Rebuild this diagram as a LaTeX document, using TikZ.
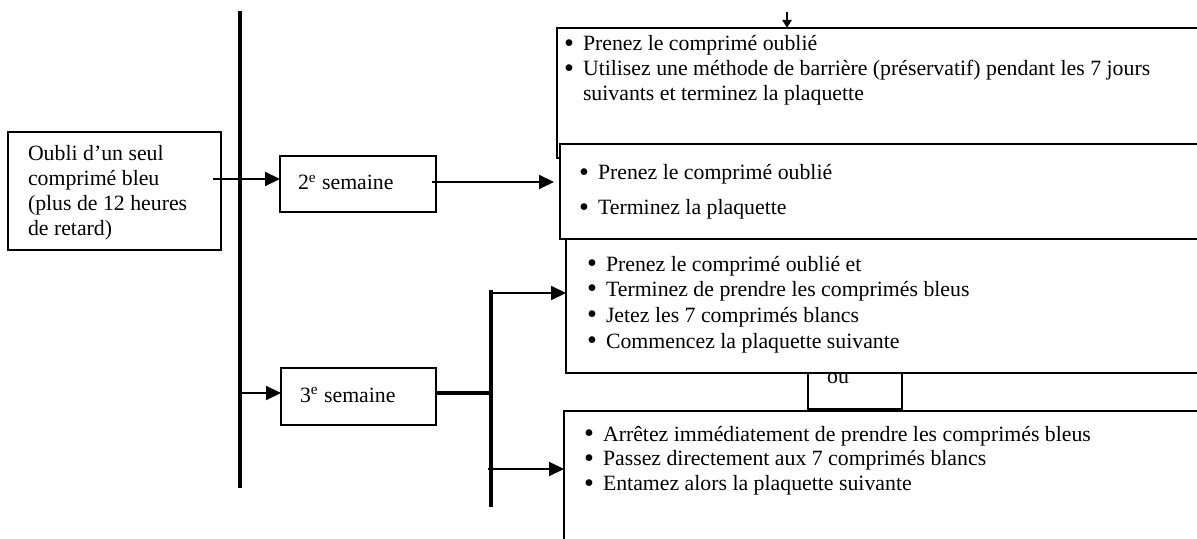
\documentclass[tikz,border=0pt]{standalone}
\usepackage{fontspec}
\setmainfont{Liberation Serif}
\usetikzlibrary{arrows.meta}
\tikzset{
  box/.style={draw, line width=0.9pt, fill=white, inner sep=0pt, outer sep=0pt, anchor=north west},
  txt/.style={inner sep=0pt, outer sep=0pt, anchor=base west, font=\fontsize{10.9}{12}\selectfont},
  arr/.style={line width=1pt, -{Triangle[length=7.5pt,width=7pt]}},
  smallarr/.style={line width=1pt, -{Triangle[length=4pt,width=4.5pt]}},
  thick line/.style={line width=1.7pt},
}
\newcommand{\bl}{\makebox[9.5pt][l]{\raisebox{-0.12ex}{\scalebox{1.3}{\textbullet}}}}
\begin{document}
\begin{tikzpicture}[x=0.5pt,y=-0.5pt]
\useasboundingbox (0,0) rectangle (1197,539);
\clip (0,0) rectangle (1197,539);
\fill[white] (0,0) rectangle (1197,539);

% main vertical line
\coordinate (vtop) at (240,11);
\coordinate (vbot) at (240,488);
\draw[thick line] (vtop) -- (vbot);

% left box
\node[box, minimum width=106.5pt, minimum height=59pt] (oubli) at (8,132) {};
\node[txt] (toubli) at (28,161) {\renewcommand\arraystretch{1.03}\begin{tabular}[t]{@{}l@{}}Oubli d'un seul\\ comprimé bleu\\ (plus de 12 heures\\ de retard)\end{tabular}};

% week boxes
\node[box, minimum width=78pt, minimum height=28pt] (sem2) at (280,156) {};
\node[txt] (tsem2) at (298,190) {2\textsuperscript{e} semaine};
\node[box, minimum width=77.5pt, minimum height=28.5pt] (sem3) at (281,368) {};
\node[txt] (tsem3) at (300,402) {3\textsuperscript{e} semaine};

% right boxes
\node[box, minimum width=326.5pt, minimum height=65pt] (b1) at (557,28) {};
\node[txt] (tb1) at (564,51) {\renewcommand\arraystretch{1.04}\begin{tabular}[t]{@{}l@{}l@{}}\bl & Prenez le comprimé oublié\\ \bl & Utilisez une méthode de barrière (préservatif) pendant les 7 jours\\ & suivants et terminez la plaquette\end{tabular}};

\node[box, minimum width=325pt, minimum height=47.5pt] (b2) at (560,144) {};
\node[txt] (tb2) at (579,180) {\renewcommand\arraystretch{1.458}\begin{tabular}[t]{@{}l@{}l@{}}\bl & Prenez le comprimé oublié\\ \bl & Terminez la plaquette\end{tabular}};

\node[box, minimum width=47pt, minimum height=27pt] (ou) at (808,355) {};
\node[txt, anchor=base] (tou) at (838,383) {ou};

\node[box, minimum width=322pt, minimum height=67pt] (b3) at (566,239) {};
\node[txt] (tb3) at (587,271) {\renewcommand\arraystretch{1.07}\begin{tabular}[t]{@{}l@{}l@{}}\bl & Prenez le comprimé oublié et\\ \bl & Terminez de prendre les comprimés bleus\\ \bl & Jetez les 7 comprimés blancs\\ \bl & Commencez la plaquette suivante\end{tabular}};

\node[box, minimum width=323pt, minimum height=74.5pt] (b4) at (564,411) {};
\node[txt] (tb4) at (584,441) {\renewcommand\arraystretch{1.04}\begin{tabular}[t]{@{}l@{}l@{}}\bl & Arrêtez immédiatement de prendre les comprimés bleus\\ \bl & Passez directement aux 7 comprimés blancs\\ \bl & Entamez alors la plaquette suivante\end{tabular}};

% connectors
\coordinate (r1) at (0,179);
\coordinate (r2) at (0,182);
\coordinate (r3) at (0,393);
\coordinate (btop) at (491,290);
\coordinate (bbot) at (491,507);
\coordinate (rb3) at (0,293);
\coordinate (rb4) at (0,469);
\coordinate (ttop) at (787,12);

\draw[arr] ([xshift=-4pt]oubli.east |- r1) -- (sem2.west |- r1);
\draw[arr] ([xshift=-2pt]sem2.east |- r2) -- ([xshift=-3pt]b2.west |- r2);
\draw[arr] (vtop |- r3) -- (sem3.west |- r3);
\draw[thick line] (sem3.east |- r3) -- (btop |- r3);
\draw[thick line] (btop) -- (bbot);
\draw[arr] (btop |- rb3) -- (b3.west |- rb3);
\draw[arr] ([xshift=-1.5pt]btop |- rb4) -- (b4.west |- rb4);
\draw[smallarr] (ttop) -- (ttop |- b1.north);
\end{tikzpicture}
\end{document}
